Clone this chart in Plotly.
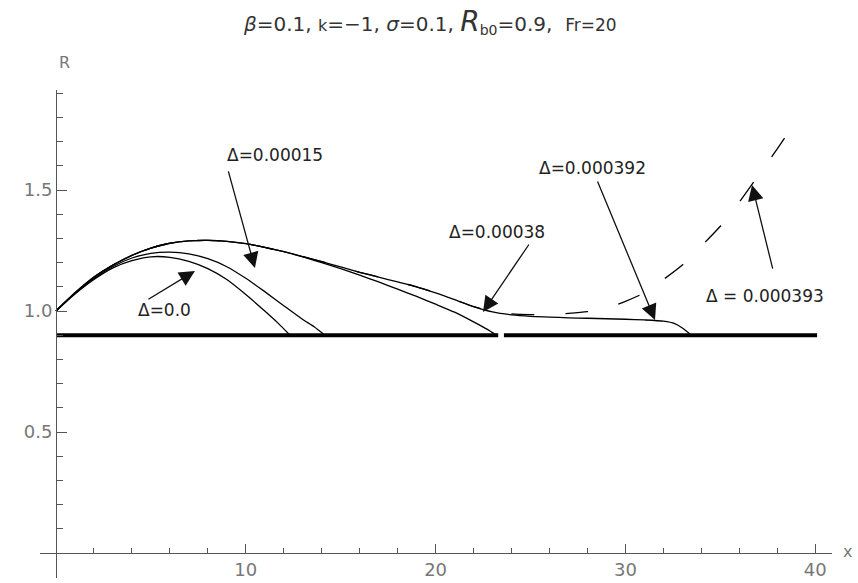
import plotly.graph_objects as go

# ---------------- data ----------------
x_d0 = [0, 1, 2, 3, 4, 5, 6, 7, 8, 9, 10, 11, 11.7, 12.33]
r_d0 = [1.0, 1.07, 1.13, 1.178, 1.208, 1.224, 1.222, 1.205, 1.175, 1.13, 1.068, 1.0, 0.95, 0.9]

x_d15 = [0, 1, 2, 3, 4, 5, 6, 7, 8, 9, 10, 11, 12, 13, 13.6, 14.17]
r_d15 = [1.0, 1.072, 1.134, 1.184, 1.219, 1.238, 1.243, 1.236, 1.216, 1.183, 1.135, 1.08, 1.022, 0.965, 0.935, 0.9]

x_d38 = [0, 1, 2, 3, 4, 5, 6, 7, 8, 9, 10, 11, 12, 13, 14, 15, 16, 17, 18, 19, 20, 21, 22, 22.7, 23.2]
r_d38 = [1.0, 1.075, 1.14, 1.19, 1.23, 1.26, 1.28, 1.29, 1.292, 1.288, 1.278, 1.263, 1.245, 1.224, 1.2, 1.175,
         1.148, 1.12, 1.09, 1.06, 1.028, 0.995, 0.955, 0.925, 0.9]

x_d392 = [0, 1, 2, 3, 4, 5, 6, 7, 8, 9, 10, 11, 12, 13, 14, 15, 16, 17, 18, 19, 20, 21, 22, 23, 24, 25,
          26, 27, 28, 29, 30, 31, 32, 32.6, 33.0, 33.4]
r_d392 = [1.0, 1.075, 1.14, 1.19, 1.23, 1.26, 1.28, 1.29, 1.292, 1.288, 1.278, 1.263, 1.245, 1.225, 1.204, 1.182,
          1.16, 1.14, 1.12, 1.1, 1.075, 1.047, 1.018, 0.996, 0.984, 0.978, 0.975, 0.972, 0.97, 0.968, 0.966,
          0.963, 0.958, 0.948, 0.93, 0.905]

x_d393 = [0, 1, 2, 3, 4, 5, 6, 7, 8, 9, 10, 11, 12, 13, 14, 15, 16, 17, 18, 19, 20, 21, 22, 23, 24, 25,
          26, 27, 28, 29, 30, 31, 32, 33, 34, 35, 36, 37, 38, 38.6]
r_d393 = [1.0, 1.075, 1.14, 1.19, 1.23, 1.26, 1.28, 1.29, 1.292, 1.288, 1.278, 1.263, 1.245, 1.225, 1.204, 1.182,
          1.16, 1.14, 1.12, 1.1, 1.075, 1.047, 1.018, 0.998, 0.988, 0.985, 0.986, 0.99, 0.997, 1.012, 1.04,
          1.075, 1.13, 1.19, 1.268, 1.35, 1.45, 1.56, 1.67, 1.74]

# bubble base line R_b0 = 0.9 (two pieces, small break under the 0.00038 curve end)
base_r = 0.9
base_seg1 = [0, 23.3]
base_seg2 = [23.6, 40.1]

# labels: text, text position, arrow tail, arrow tip
ann_text = ["Δ=0.00015", "Δ=0.0", "Δ=0.00038", "Δ=0.000392", "Δ = 0.000393"]
ann_tx = [11.55, 5.74, 23.24, 28.24, 37.35]
ann_ty = [1.645, 1.004, 1.326, 1.591, 1.062]
tail_x = [9.06, 4.79, 24.97, 28.5, 37.78]
tail_y = [1.583, 1.045, 1.281, 1.541, 1.169]
tip_x = [10.48, 7.32, 22.5, 31.56, 36.67]
tip_y = [1.178, 1.165, 0.996, 0.963, 1.521]

x_major = [10, 20, 30, 40]
x_minor = [2, 4, 6, 8, 12, 14, 16, 18, 22, 24, 26, 28, 32, 34, 36, 38]
y_major = [0.5, 1.0, 1.5]
y_major_text = ["0.5", "1.0", "1.5"]
y_minor = [-0.1, 0.1, 0.2, 0.3, 0.4, 0.6, 0.7, 0.8, 0.9, 1.1, 1.2, 1.3, 1.4, 1.6, 1.7, 1.8, 1.9]

# ---------------- figure ----------------
W, H = 858, 583
x0_px, x_scale = 56.0, 18.98      # px of x=0, px per unit
r0_px, r_scale = 553.0, 242.0     # px (from top) of R=0, px per unit
xa_left, xa_right = 40.0, 832.0
ya_top, ya_bot = 90.0, 578.0

x_range = [(xa_left - x0_px) / x_scale, (xa_right - x0_px) / x_scale]
y_range = [(r0_px - ya_bot) / r_scale, (r0_px - ya_top) / r_scale]

fig = go.Figure()
line_col = "black"
fig.add_trace(go.Scatter(x=base_seg1, y=[base_r, base_r], mode="lines", line=dict(color=line_col, width=4)))
fig.add_trace(go.Scatter(x=base_seg2, y=[base_r, base_r], mode="lines", line=dict(color=line_col, width=4)))
for xs, rs in [(x_d0, r_d0), (x_d15, r_d15), (x_d38, r_d38), (x_d392, r_d392)]:
    fig.add_trace(go.Scatter(x=xs, y=rs, mode="lines",
                             line=dict(color=line_col, width=1.3, shape="spline", smoothing=0.6)))
fig.add_trace(go.Scatter(x=x_d393, y=r_d393, mode="lines",
                         line=dict(color=line_col, width=1.3, dash="23px,31px", shape="spline", smoothing=0.6)))

annotations = []
for t, tx, ty in zip(ann_text, ann_tx, ann_ty):
    annotations.append(dict(x=tx, y=ty, xref="x", yref="y", text=t, showarrow=False,
                            font=dict(family="DejaVu Sans", size=17, color="#222")))
for ax_, ay_, hx, hy in zip(tail_x, tail_y, tip_x, tip_y):
    annotations.append(dict(x=hx, y=hy, xref="x", yref="y", ax=ax_, ay=ay_, axref="x", ayref="y",
                            text="", showarrow=True, arrowhead=2, arrowsize=2.4, arrowwidth=1.3,
                            arrowcolor="#111", standoff=0, startstandoff=0))
# title
annotations.append(dict(
    x=430 / W, y=1 - 22 / H, xref="paper", yref="paper", showarrow=False, xanchor="center", yanchor="middle",
    text="<i>β</i>=0.1, <span style='font-size:16px'>k</span>=−1, <i>σ</i>=0.1, "
         "<span style='font-size:28px'><i>R</i></span><sub>b0</sub>=0.9,  <span style='font-size:17px'>Fr=20</span>",
    font=dict(family="DejaVu Sans", size=20, color="#333")))
# axis labels
annotations.append(dict(x=57 / W, y=1 - 51 / H, xref="paper", yref="paper", text="R", showarrow=False,
                        font=dict(family="DejaVu Sans", size=16, color="#777")))
annotations.append(dict(x=854 / W, y=1 - 563 / H, xref="paper", yref="paper", text="x", showarrow=False,
                        font=dict(family="DejaVu Sans", size=16, color="#777")))

axis_col = "#555"
fig.update_layout(
    width=W, height=H, margin=dict(l=0, r=0, t=0, b=0),
    paper_bgcolor="white", plot_bgcolor="white", showlegend=False,
    annotations=annotations,
    xaxis=dict(domain=[xa_left / W, xa_right / W], range=x_range, anchor="free",
               position=(H - r0_px) / H, showline=True, linecolor=axis_col, linewidth=1,
               showgrid=False, zeroline=False, ticks="inside", ticklen=9, tickcolor=axis_col,
               tickmode="array", tickvals=x_major, ticktext=[str(v) for v in x_major],
               tickfont=dict(family="DejaVu Sans", size=18, color="#777"),
               minor=dict(tickmode="array", tickvals=x_minor, ticks="inside", ticklen=5, tickcolor=axis_col)),
    yaxis=dict(domain=[(H - ya_bot) / H, (H - ya_top) / H], range=y_range, anchor="free",
               position=x0_px / W, showline=True, linecolor=axis_col, linewidth=1,
               showgrid=False, zeroline=False, ticks="inside", ticklen=10, tickcolor=axis_col,
               tickmode="array", tickvals=y_major, ticktext=y_major_text,
               tickfont=dict(family="DejaVu Sans", size=18, color="#777"),
               minor=dict(tickmode="array", tickvals=y_minor, ticks="inside", ticklen=6, tickcolor=axis_col)),
)

fig.write_html("out.html")
